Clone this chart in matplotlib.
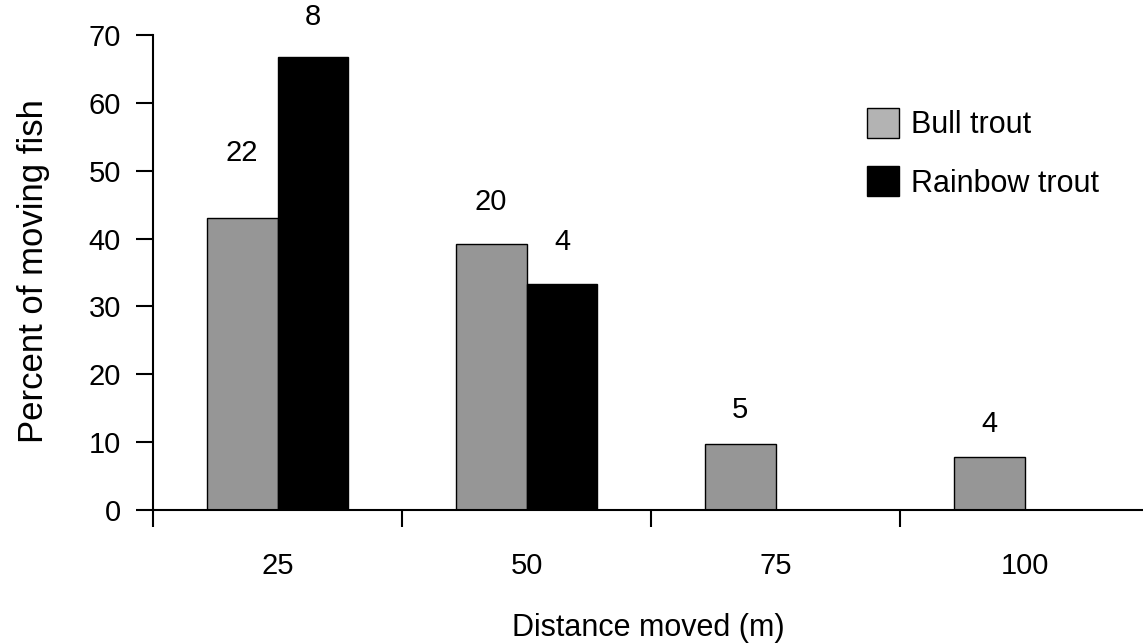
import numpy as np
import matplotlib.pyplot as plt
from matplotlib.patches import Patch

plt.rcParams['font.family'] = ['Liberation Sans', 'DejaVu Sans']

# Data
distances = ['25', '50', '75', '100']
bull_pct = [43.1, 39.2, 9.8, 7.8]
rainbow_pct = [66.7, 33.3, 0, 0]
bull_n = [22, 20, 5, 4]
rainbow_n = [8, 4, None, None]

# where the count labels sit above each bar (data units above bar top)
bull_lift = [9.5, 6.2, 5.0, 4.8]
rainbow_lift = [5.9, 6.2, 0, 0]

x = np.arange(len(distances))
w = 0.285

fig = plt.figure(figsize=(11.43, 6.44), dpi=100)
ax = fig.add_axes([153 / 1143, 134 / 644, 996 / 1143, 475 / 644])

ax.bar(x - w / 2, bull_pct, w, color='#969696', edgecolor='black', linewidth=1.0)
ax.bar(x + w / 2, rainbow_pct, w, color='black', edgecolor='black', linewidth=1.0)

for i in range(len(x)):
    ax.text(x[i] - w / 2, bull_pct[i] + bull_lift[i], str(bull_n[i]),
            ha='center', va='center', fontsize=21)
    if rainbow_n[i] is not None:
        ax.text(x[i] + w / 2, rainbow_pct[i] + rainbow_lift[i], str(rainbow_n[i]),
                ha='center', va='center', fontsize=21)

ax.set_xlim(-0.5, 3.5)
ax.set_ylim(0, 70)
ax.set_yticks(np.arange(0, 71, 10))

# ticks between groups, labels at group centres
ax.set_xticks(np.arange(-0.5, 3.6, 1.0))
ax.set_xticklabels([])
ax.set_xticks(x, minor=True)
ax.set_xticklabels(distances, minor=True)
ax.tick_params(axis='x', which='major', direction='out', length=12, width=1.5)
ax.tick_params(axis='x', which='minor', length=0, pad=30, labelsize=21)
ax.tick_params(axis='y', direction='out', length=12, width=1.5, pad=11, labelsize=21)

for s in ['top', 'right']:
    ax.spines[s].set_visible(False)
for s in ['left', 'bottom']:
    ax.spines[s].set_linewidth(1.5)
ax.spines['left'].set_bounds(0, 70)

ax.set_ylabel('Percent of moving fish', fontsize=25)
ax.set_xlabel('Distance moved (m)', fontsize=22)
ax.xaxis.set_label_coords((648 - 153) / 996, -(613 - 510) / 475)
ax.yaxis.set_label_coords(-(153 - 50) / 996, (510 - 271) / 475)

handles = [Patch(facecolor='#b3b3b3', edgecolor='black', linewidth=1.0),
           Patch(facecolor='black', edgecolor='black', linewidth=1.0)]
fig.legend(handles, ['Bull trout', 'Rainbow trout'], loc='upper left',
           bbox_to_anchor=(867 / 1143, 1 - 108 / 644), frameon=False, fontsize=22,
           handlelength=1.05, handleheight=1.13, handletextpad=0.4,
           labelspacing=0.85, borderpad=0, borderaxespad=0)

fig.savefig('out.png', dpi=100)
